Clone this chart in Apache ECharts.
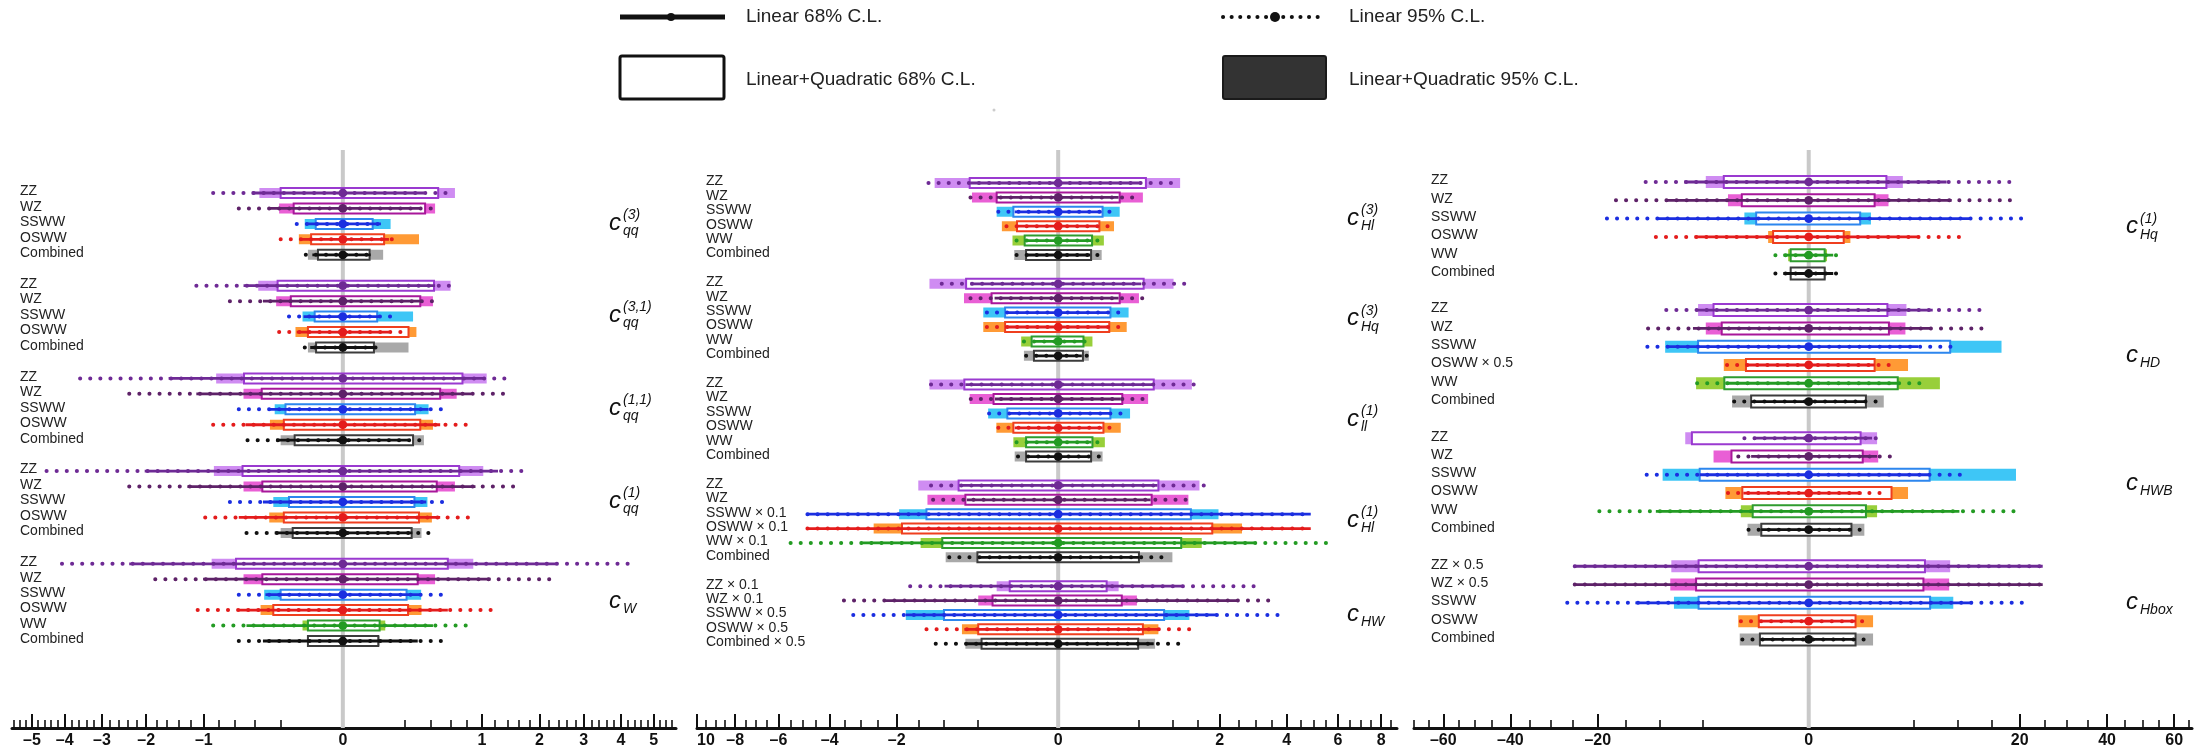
<!DOCTYPE html>
<html>
<head>
<meta charset="utf-8">
<script src="https://cdn.jsdelivr.net/npm/echarts@6/dist/echarts.min.js"></script>
<style>
  html, body { margin: 0; padding: 0; background: #fff; }
  #chart { width: 2207px; height: 756px; }
</style>
</head>
<body>
<div id="chart"></div>
<script>
// colours per process: light fill (lin+quad 95%), box edge (lin+quad 68%), line (linear)
var procColors = {
  ZZ:       { fill: '#cf8cf2', edge: '#9a3ad0', line: '#6e2a95' },
  WZ:       { fill: '#e95fd5', edge: '#a8179a', line: '#5e2268' },
  SSWW:     { fill: '#3ec6f6', edge: '#2d86ee', line: '#1b2ee0' },
  OSWW:     { fill: '#ff9a35', edge: '#ef3f1f', line: '#e41c1c' },
  WW:       { fill: '#98cf3a', edge: '#2f9c2f', line: '#239b23' },
  Combined: { fill: '#a9a9a9', edge: '#3c3c3c', line: '#111111' }
};

// ---------------- left panel ----------------
var leftTicks = [-5, -4, -3, -2, -1, 0, 1, 2, 3, 4, 5];
var leftTickLabels = ['–5', '–4', '–3', '–2', '–1', '0', '1', '2', '3', '4', '5'];
var leftCoefSub = ['qq', 'qq', 'qq', 'qq', 'W'];
var leftCoefSup = ['(3)', '(3,1)', '(1,1)', '(1)', ''];
var leftGroup = [0,0,0,0,0, 1,1,1,1,1, 2,2,2,2,2, 3,3,3,3,3, 4,4,4,4,4,4];
var leftLabels = [
  'ZZ', 'WZ', 'SSWW', 'OSWW', 'Combined',
  'ZZ', 'WZ', 'SSWW', 'OSWW', 'Combined',
  'ZZ', 'WZ', 'SSWW', 'OSWW', 'Combined',
  'ZZ', 'WZ', 'SSWW', 'OSWW', 'Combined',
  'ZZ', 'WZ', 'SSWW', 'OSWW', 'WW', 'Combined'
];
var leftLin95 = [
  [-0.87, 0.56], [-0.56, 0.49], [-0.11, 0.10], [-0.20, 0.155], [-0.071, 0.046],
  [-1.11, 0.67], [-0.66, 0.49], [-0.15, 0.16], [-0.21, 0.21], [-0.075, 0.07],
  [-3.57, 1.39], [-2.36, 1.39], [-0.56, 0.51], [-0.87, 0.79], [-0.47, 0.34],
  [-4.54, 1.71], [-2.36, 1.59], [-0.66, 0.51], [-0.98, 0.88], [-0.48, 0.41],
  [-4.08, 4.33], [-1.82, 2.38], [-0.56, 0.58], [-1.09, 1.14], [-0.87, 0.85], [-0.56, 0.58]
];
var leftLin68 = [
  [-0.43, 0.34], [-0.29, 0.32], [-0.07, 0.075], [-0.09, 0.11], [-0.048, 0.04],
  [-0.51, 0.44], [-0.33, 0.32], [-0.08, 0.07], [-0.11, 0.11], [-0.055, 0.05],
  [-1.57, 1.04], [-1.11, 0.85], [-0.275, 0.38], [-0.49, 0.49], [-0.23, 0.22],
  [-2.03, 1.245], [-1.25, 0.91], [-0.33, 0.36], [-0.56, 0.49], [-0.24, 0.25],
  [-2.36, 2.35], [-1.01, 1.13], [-0.31, 0.306], [-0.56, 0.57], [-0.48, 0.42], [-0.33, 0.29]
];
var leftQuad95 = [
  [-0.36, 0.65], [-0.21, 0.44], [-0.075, 0.118], [-0.10, 0.30], [-0.063, 0.084],
  [-0.37, 0.60], [-0.23, 0.42], [-0.084, 0.255], [-0.116, 0.28], [-0.063, 0.223],
  [-0.83, 1.07], [-0.51, 0.67], [-0.24, 0.38], [-0.275, 0.42], [-0.20, 0.34],
  [-0.86, 1.02], [-0.51, 0.65], [-0.25, 0.37], [-0.28, 0.41], [-0.20, 0.32],
  [-0.89, 0.88], [-0.51, 0.44], [-0.32, 0.317], [-0.35, 0.32], [-0.084, 0.093], [-0.066, 0.07]
];
var leftQuad68 = [
  [-0.20, 0.47], [-0.125, 0.35], [-0.038, 0.046], [-0.052, 0.088], [-0.032, 0.037],
  [-0.22, 0.43], [-0.14, 0.31], [-0.041, 0.061], [-0.063, 0.223], [-0.037, 0.05],
  [-0.505, 0.74], [-0.34, 0.49], [-0.17, 0.27], [-0.18, 0.31], [-0.12, 0.255],
  [-0.52, 0.70], [-0.335, 0.456], [-0.15, 0.265], [-0.18, 0.30], [-0.13, 0.245],
  [-0.59, 0.57], [-0.335, 0.29], [-0.20, 0.21], [-0.25, 0.22], [-0.063, 0.07], [-0.063, 0.065]
];

// ---------------- middle panel ----------------
var midTicks = [-10, -8, -6, -4, -2, 0, 2, 4, 6, 8];
var midTickLabels = ['10', '–8', '–6', '–4', '–2', '0', '2', '4', '6', '8'];
var midCoefSub = ['Hl', 'Hq', 'll', 'Hl', 'HW'];
var midCoefSup = ['(3)', '(3)', '(1)', '(1)', ''];
var midGroup = [0,0,0,0,0,0, 1,1,1,1,1,1, 2,2,2,2,2,2, 3,3,3,3,3,3, 4,4,4,4,4];
var midLabels = [
  'ZZ', 'WZ', 'SSWW', 'OSWW', 'WW', 'Combined',
  'ZZ', 'WZ', 'SSWW', 'OSWW', 'WW', 'Combined',
  'ZZ', 'WZ', 'SSWW', 'OSWW', 'WW', 'Combined',
  'ZZ', 'WZ', 'SSWW × 0.1', 'OSWW × 0.1', 'WW × 0.1', 'Combined',
  'ZZ × 0.1', 'WZ × 0.1', 'SSWW × 0.5', 'OSWW × 0.5', 'Combined × 0.5'
];
var midLin95 = [
  [-1.29, 1.02], [-0.59, 0.475], [-0.275, 0.28], [-0.205, 0.20], [-0.133, 0.136], [-0.133, 0.13],
  [-1.04, 1.32], [-0.59, 0.57], [-0.39, 0.35], [-0.39, 0.357], [-0.09, 0.083], [-0.079, 0.079],
  [-1.24, 1.51], [-0.586, 0.59], [-0.366, 0.37], [-0.275, 0.28], [-0.133, 0.13], [-0.124, 0.13],
  [-1.24, 1.72], [-1.20, 1.28], [-4.82, 4.89], [-4.82, 4.89], [-5.49, 5.88], [-0.91, 0.98],
  [-1.68, 2.93], [-3.52, 3.53], [-3.22, 3.81], [-1.33, 1.37], [-1.15, 1.19]
];
var midLin68 = [
  [-0.59, 0.53], [-0.29, 0.28], [-0.145, 0.145], [-0.124, 0.121], [-0.079, 0.083], [-0.074, 0.079],
  [-0.59, 0.53], [-0.31, 0.28], [-0.205, 0.20], [-0.205, 0.19], [-0.049, 0.049], [-0.042, 0.043],
  [-0.66, 0.69], [-0.306, 0.30], [-0.187, 0.20], [-0.145, 0.151], [-0.074, 0.0855], [-0.074, 0.079],
  [-0.75, 0.756], [-0.64, 0.655], [-4.82, 4.89], [-4.82, 4.89], [-2.94, 2.95], [-0.48, 0.50],
  [-0.99, 1.19], [-2.29, 2.47], [-1.78, 1.93], [-0.675, 0.79], [-0.66, 0.70]
];
var midQuad95 = [
  [-1.17, 1.14], [-0.57, 0.55], [-0.29, 0.29], [-0.243, 0.239], [-0.16, 0.16], [-0.148, 0.145],
  [-1.27, 1.02], [-0.68, 0.50], [-0.43, 0.38], [-0.43, 0.36], [-0.105, 0.09], [-0.09, 0.072],
  [-1.27, 1.37], [-0.60, 0.62], [-0.376, 0.396], [-0.293, 0.30], [-0.154, 0.167], [-0.145, 0.151],
  [-1.50, 1.53], [-1.31, 1.30], [-1.94, 1.97], [-2.61, 2.59], [-1.45, 1.58], [-0.97, 1.00],
  [-0.29, 0.28], [-0.49, 0.475], [-1.78, 1.32], [-0.71, 0.77], [-0.66, 0.72]
];
var midQuad68 = [
  [-0.60, 0.59], [-0.29, 0.29], [-0.154, 0.151], [-0.13, 0.13], [-0.086, 0.088], [-0.079, 0.083],
  [-0.65, 0.56], [-0.34, 0.29], [-0.216, 0.209], [-0.216, 0.20], [-0.054, 0.049], [-0.045, 0.047],
  [-0.675, 0.70], [-0.32, 0.315], [-0.198, 0.209], [-0.154, 0.157], [-0.079, 0.09], [-0.079, 0.083],
  [-0.76, 0.77], [-0.66, 0.67], [-1.33, 1.35], [-1.87, 1.82], [-1.03, 1.16], [-0.50, 0.50],
  [-0.18, 0.18], [-0.33, 0.31], [-1.0, 0.86], [-0.49, 0.55], [-0.45, 0.49]
];

// ---------------- right panel ----------------
var rightTicks = [-60, -40, -20, 0, 20, 40, 60];
var rightTickLabels = ['–60', '–40', '–20', '0', '20', '40', '60'];
var rightCoefSub = ['Hq', 'HD', 'HWB', 'Hbox'];
var rightCoefSup = ['(1)', '', '', ''];
var rightGroup = [0,0,0,0,0,0, 1,1,1,1,1,1, 2,2,2,2,2,2, 3,3,3,3,3];
var rightLabels = [
  'ZZ', 'WZ', 'SSWW', 'OSWW', 'WW', 'Combined',
  'ZZ', 'WZ', 'SSWW', 'OSWW × 0.5', 'WW', 'Combined',
  'ZZ', 'WZ', 'SSWW', 'OSWW', 'WW', 'Combined',
  'ZZ × 0.5', 'WZ × 0.5', 'SSWW', 'OSWW', 'Combined'
];
var rightLin95 = [
  [-11.95, 18.4], [-16.7, 18.2], [-18.3, 22.1], [-10.5, 10.35], [-0.50, 0.55], [-0.50, 0.55],
  [-9.12, 14.65], [-11.6, 13.6], [-11.7, 10.2], [-3.0, 3.36], [-5.6, 6.02], [-2.5, 2.43],
  [-1.86, 2.43], [-2.23, 3.24], [-11.8, 10.56], [-2.93, 2.43], [-19.7, 20.1], [-1.63, 1.39],
  [-24.6, 24.6], [-24.6, 24.6], [-26.2, 22.1], [-2.07, 1.80], [-1.98, 1.80]
];
var rightLin68 = [
  [-6.96, 8.54], [-9.26, 9.19], [-10.5, 11.65], [-5.86, 5.40], [-0.29, 0.27], [-0.29, 0.27],
  [-5.6, 6.91], [-6.02, 6.74], [-9.1, 5.4], [-1.77, 1.95], [-3.12, 3.56], [-1.49, 1.39],
  [-1.36, 1.80], [-1.49, 2.10], [-5.34, 6.46], [-1.92, 1.26], [-10.5, 10.2], [-1.01, 0.82],
  [-24.6, 24.6], [-24.6, 24.6], [-13.5, 12.0], [-1.12, 0.985], [-1.05, 0.985]
];
var rightQuad95 = [
  [-4.76, 3.98], [-2.93, 2.86], [-1.86, 1.74], [-0.74, 0.78], [-0.19, 0.15], [-0.16, 0.13],
  [-5.5, 4.29], [-4.76, 4.20], [-9.26, 16.7], [-3.24, 4.43], [-5.7, 7.73], [-2.64, 2.53],
  [-6.85, 2.10], [-4.07, 2.17], [-9.59, 19.3], [-3.12, 4.43], [-2.07, 2.10], [-1.68, 1.39],
  [-8.48, 8.99], [-8.61, 8.86], [-8.16, 9.39], [-2.23, 1.86], [-2.14, 1.86]
];
var rightQuad68 = [
  [-3.24, 2.71], [-2.01, 1.95], [-1.24, 1.19], [-0.57, 0.55], [-0.146, 0.114], [-0.146, 0.114],
  [-4.07, 2.78], [-3.40, 2.89], [-5.5, 8.99], [-1.77, 1.95], [-3.2, 3.56], [-1.49, 1.47],
  [-6.13, 1.21], [-2.68, 1.31], [-5.34, 6.57], [-1.98, 3.08], [-1.41, 1.47], [-1.01, 0.82],
  [-5.45, 6.07], [-5.70, 5.91], [-5.45, 6.62], [-1.12, 0.985], [-1.07, 0.985]
];

// square-root axis: everything is placed on sign(x)*sqrt(|x|)
function tr(v) {
  return v < 0 ? -Math.sqrt(-v) : Math.sqrt(v);
}

function minorTicks(from, to, step, majors) {
  var out = [];
  var n = Math.round((to - from) / step);
  for (var k = 0; k <= n; k++) {
    var v = Math.round((from + k * step) * 1000) / 1000;
    if (majors.indexOf(v) < 0) out.push(tr(v));
  }
  return out;
}

var panels = [
  {
    labels: leftLabels, group: leftGroup, lin95: leftLin95, lin68: leftLin68, quad95: leftQuad95, quad68: leftQuad68,
    ticks: leftTicks, tickLabels: leftTickLabels, coefSub: leftCoefSub, coefSup: leftCoefSup,
    minor: [-5.6, 5.6, 0.2], xMin: -5.66, xMax: 5.74, yMin: -2.783, yMax: 34.63, stride: 6,
    gridLeft: 12, gridWidth: 664, boxH: 10, labelX: 20, coefX: 609
  },
  {
    labels: midLabels, group: midGroup, lin95: midLin95, lin68: midLin68, quad95: midQuad95, quad68: midQuad68,
    ticks: midTicks, tickLabels: midTickLabels, coefSub: midCoefSub, coefSup: midCoefSup,
    minor: [-9.5, 8.5, 0.5], xMin: -10, xMax: 8.8, yMin: -2.292, yMax: 37.85, stride: 7,
    gridLeft: 697, gridWidth: 700, boxH: 10, labelX: 706, coefX: 1347
  },
  {
    labels: rightLabels, group: rightGroup, lin95: rightLin95, lin68: rightLin68, quad95: rightQuad95, quad68: rightQuad68,
    ticks: rightTicks, tickLabels: rightTickLabels, coefSub: rightCoefSub, coefSup: rightCoefSup,
    minor: [-70, 65, 5], xMin: -70, xMax: 66, yMin: -1.749, yMax: 29.84, stride: 7,
    gridLeft: 1414, gridWidth: 778, boxH: 12, labelX: 1431, coefX: 2126
  }
];

var FONT = '"Liberation Sans", Arial, sans-serif';
var grids = [], xAxes = [], yAxes = [], series = [];

panels.forEach(function (p, pi) {
  // row positions from the group structure
  var rowIdx = [], last = -1, pos = 0;
  p.group.forEach(function (g) {
    if (g !== last) { pos = 0; last = g; }
    rowIdx.push(g * p.stride + pos);
    pos++;
  });
  var proc = p.labels.map(function (s) { return s.split(' ')[0]; });

  grids.push({ left: p.gridLeft, width: p.gridWidth, top: 150, height: 578 });

  var labelMap = {};
  p.ticks.forEach(function (v, i) { labelMap[tr(v).toFixed(4)] = p.tickLabels[i]; });

  xAxes.push({
    type: 'value', gridIndex: pi, position: 'bottom', min: tr(p.xMin), max: tr(p.xMax),
    axisLine: { onZero: false, lineStyle: { color: '#111', width: 3 } },
    axisTick: { show: true, inside: true, length: 14, customValues: p.ticks.map(tr), lineStyle: { color: '#111', width: 2 } },
    axisLabel: {
      customValues: p.ticks.map(tr), margin: 5, fontSize: 16, fontWeight: 'bold', color: '#111', fontFamily: FONT,
      alignMinLabel: pi === 1 ? 'left' : 'center',
      formatter: function (v) { var s = labelMap[Number(v).toFixed(4)]; return s === undefined ? '' : s; }
    },
    splitLine: { show: false }
  });
  xAxes.push({
    type: 'value', gridIndex: pi, position: 'bottom', min: tr(p.xMin), max: tr(p.xMax),
    axisLine: { show: false, onZero: false },
    axisTick: { show: true, inside: true, length: 8, customValues: minorTicks(p.minor[0], p.minor[1], p.minor[2], p.ticks), lineStyle: { color: '#111', width: 1.6 } },
    axisLabel: { show: false },
    splitLine: { show: false }
  });
  yAxes.push({ type: 'value', gridIndex: pi, inverse: true, min: p.yMin, max: p.yMax, show: false });

  var xi = pi * 2;

  // grey zero line
  series.push({
    type: 'custom', xAxisIndex: xi, yAxisIndex: pi, z: 1, silent: true,
    data: [[0, p.yMin]],
    renderItem: function (params, api) {
      var a = api.coord([0, p.yMin]), b = api.coord([0, p.yMax]);
      return { type: 'line', shape: { x1: a[0], y1: a[1], x2: b[0], y2: b[1] }, style: { stroke: '#c9c9c9', lineWidth: 4 } };
    }
  });

  // intervals
  var rows = p.labels.map(function (_, i) {
    return [rowIdx[i], p.lin95[i][0], p.lin95[i][1], p.lin68[i][0], p.lin68[i][1],
      p.quad95[i][0], p.quad95[i][1], p.quad68[i][0], p.quad68[i][1], i];
  });
  series.push({
    type: 'custom', xAxisIndex: xi, yAxisIndex: pi, z: 2, silent: true,
    encode: { x: [1, 2], y: 0 },
    data: rows,
    renderItem: function (params, api) {
      var i = api.value(9);
      var c = procColors[proc[i]];
      var y = api.value(0);
      var px = function (v) { return api.coord([tr(v), y])[0]; };
      var yy = api.coord([0, y])[1];
      var h = p.boxH;
      var q95 = [px(api.value(5)), px(api.value(6))];
      var q68 = [px(api.value(7)), px(api.value(8))];
      var l68 = [px(api.value(3)), px(api.value(4))];
      var l95 = [px(api.value(1)), px(api.value(2))];
      return {
        type: 'group',
        children: [
          { type: 'rect', shape: { x: q95[0], y: yy - h / 2, width: q95[1] - q95[0], height: h }, style: { fill: c.fill } },
          { type: 'rect', shape: { x: q68[0], y: yy - h / 2, width: q68[1] - q68[0], height: h }, style: { fill: '#ffffff', stroke: c.edge, lineWidth: 2 } },
          { type: 'line', shape: { x1: l68[0], y1: yy, x2: l68[1], y2: yy }, style: { stroke: c.line, lineWidth: 2.8 } },
          { type: 'line', shape: { x1: l95[0], y1: yy, x2: l95[1], y2: yy }, style: { stroke: c.line, lineWidth: 4, lineDash: [0.1, 10], lineCap: 'round' } },
          { type: 'circle', shape: { cx: px(0), cy: yy, r: 4.4 }, style: { fill: c.line } }
        ]
      };
    }
  });

  // process names
  series.push({
    type: 'custom', xAxisIndex: xi, yAxisIndex: pi, z: 3, silent: true,
    data: p.labels.map(function (_, i) { return [0, rowIdx[i], i]; }),
    renderItem: function (params, api) {
      var yy = api.coord([0, api.value(1)])[1];
      return {
        type: 'text', x: p.labelX, y: yy - 1.5,
        style: { text: p.labels[api.value(2)], fill: '#222', font: '14px ' + FONT, align: 'left', verticalAlign: 'middle' }
      };
    }
  });

  // coefficient names
  var coefData = p.coefSub.map(function (_, g) {
    var idx = rowIdx.filter(function (_, i) { return p.group[i] === g; });
    return [0, (idx[0] + idx[idx.length - 1]) / 2, g];
  });
  series.push({
    type: 'custom', xAxisIndex: xi, yAxisIndex: pi, z: 3, silent: true,
    data: coefData,
    renderItem: function (params, api) {
      var g = api.value(2);
      var gc = api.coord([0, api.value(1)])[1];
      var kids = [
        { type: 'text', x: p.coefX, y: gc - 1, style: { text: 'c', fill: '#111', font: 'italic 24px ' + FONT, align: 'left', verticalAlign: 'middle' } },
        { type: 'text', x: p.coefX + 14, y: gc + 7, style: { text: p.coefSub[g], fill: '#111', font: 'italic 14px ' + FONT, align: 'left', verticalAlign: 'middle' } }
      ];
      if (p.coefSup[g]) {
        kids.push({ type: 'text', x: p.coefX + 14, y: gc - 9, style: { text: p.coefSup[g], fill: '#111', font: 'italic 14px ' + FONT, align: 'left', verticalAlign: 'middle' } });
      }
      return { type: 'group', children: kids };
    }
  });
});

var chart = echarts.init(document.getElementById('chart'));
chart.setOption({
  animation: false,
  backgroundColor: '#ffffff',
  textStyle: { fontFamily: FONT },
  grid: grids,
  xAxis: xAxes,
  yAxis: yAxes,
  series: series,
  graphic: [
    { type: 'line', shape: { x1: 620, y1: 17, x2: 725, y2: 17 }, style: { stroke: '#111', lineWidth: 5 } },
    { type: 'circle', shape: { cx: 671, cy: 17, r: 4 }, style: { fill: '#111' } },
    { type: 'text', x: 746, y: 17, style: { text: 'Linear 68% C.L.', font: '19px ' + FONT, fill: '#222', verticalAlign: 'middle' } },
    { type: 'line', shape: { x1: 1223, y1: 17, x2: 1323, y2: 17 }, style: { stroke: '#111', lineWidth: 4, lineDash: [0.1, 8.5], lineCap: 'round' } },
    { type: 'circle', shape: { cx: 1275, cy: 17, r: 5 }, style: { fill: '#111' } },
    { type: 'text', x: 1349, y: 17, style: { text: 'Linear 95% C.L.', font: '19px ' + FONT, fill: '#222', verticalAlign: 'middle' } },
    { type: 'rect', shape: { x: 620, y: 56, width: 104, height: 43, r: 2 }, style: { fill: '#fff', stroke: '#111', lineWidth: 3 } },
    { type: 'text', x: 746, y: 80, style: { text: 'Linear+Quadratic 68% C.L.', font: '19px ' + FONT, fill: '#222', verticalAlign: 'middle' } },
    { type: 'rect', shape: { x: 1223, y: 56, width: 103, height: 43, r: 2 }, style: { fill: '#333', stroke: '#1a1a1a', lineWidth: 2 } },
    { type: 'text', x: 1349, y: 80, style: { text: 'Linear+Quadratic 95% C.L.', font: '19px ' + FONT, fill: '#222', verticalAlign: 'middle' } },
    { type: 'circle', shape: { cx: 994, cy: 110, r: 1.5 }, style: { fill: '#cccccc' } }
  ]
});
</script>
</body>
</html>
